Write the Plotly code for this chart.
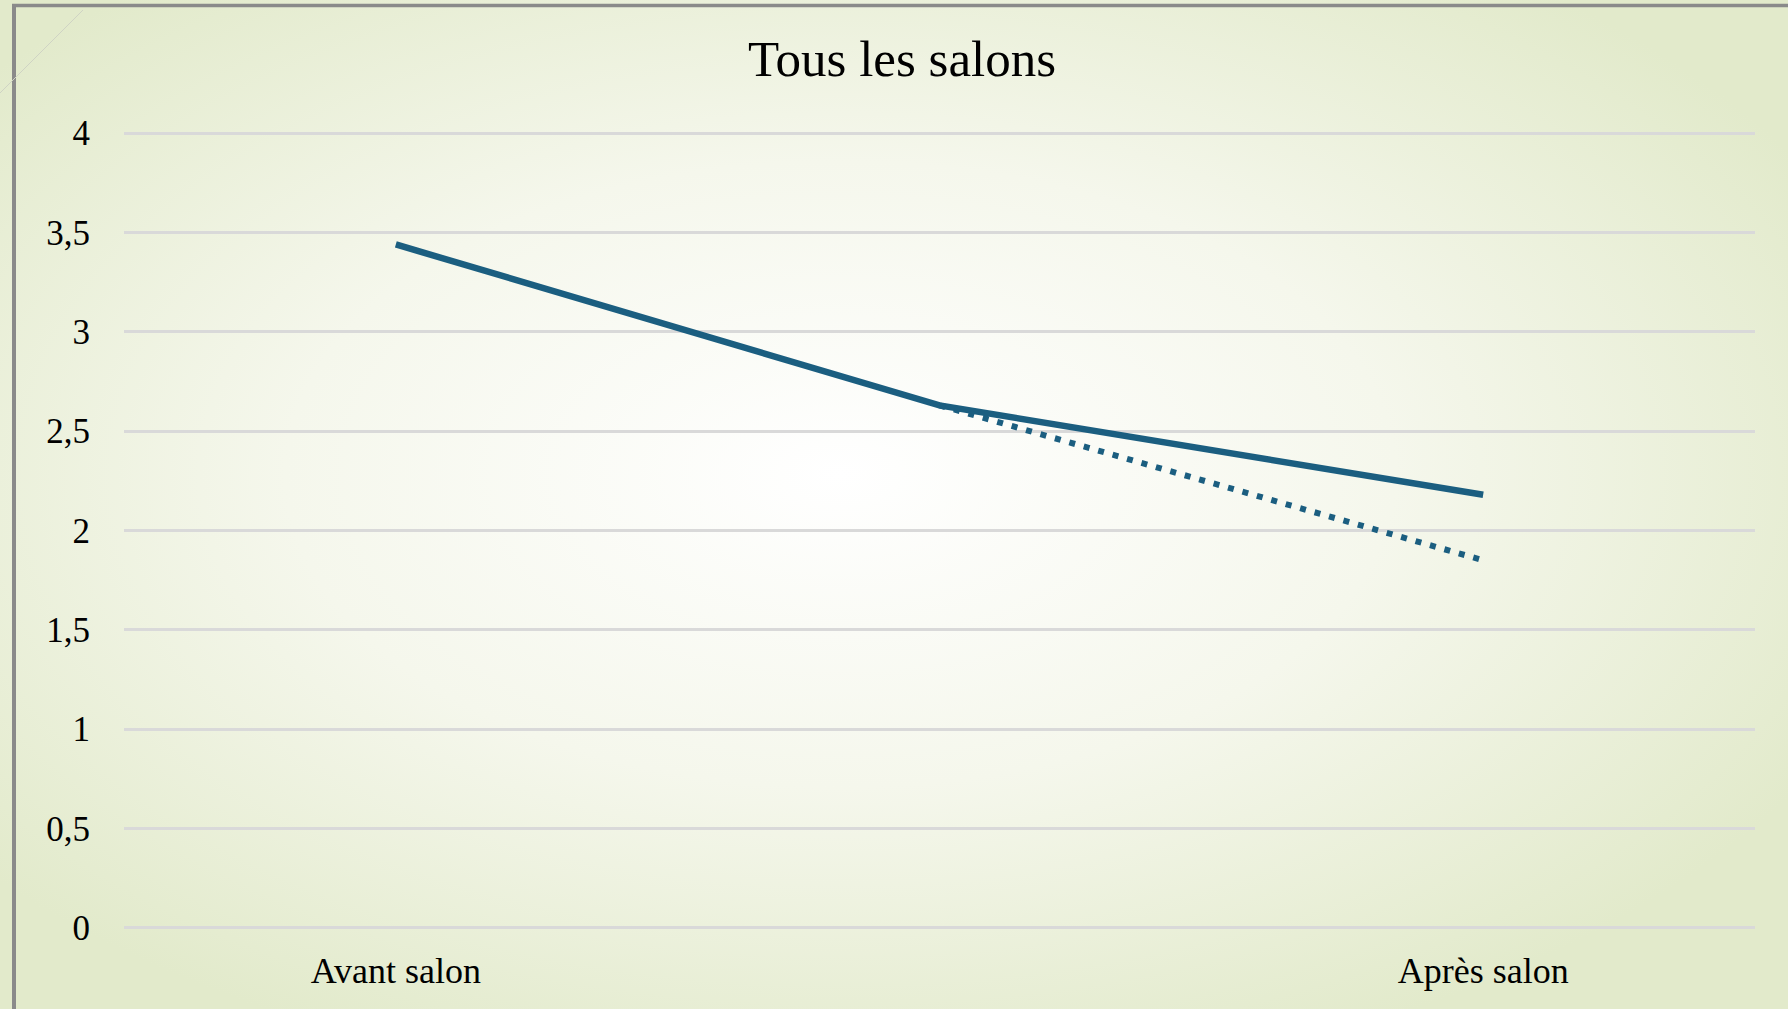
import plotly.graph_objects as go
import urllib.parse

# ---- data ----
categories = ["Avant salon", " ", "Après salon"]
solid_values = [3.44, 2.63, 2.18]
dotted_values = [None, 2.63, 1.85]
y_ticks = [0, 0.5, 1, 1.5, 2, 2.5, 3, 3.5, 4]
title_text = "Tous les salons"

# ---- layout geometry ----
W, H = 1788, 1009
L, R, T, B = 124, 33, 132, 80
PW, PH = W - L - R, H - T - B

line_color = "#1b5e80"
font_family = "Liberation Serif, Times New Roman, serif"

svg = (
    '<svg xmlns="http://www.w3.org/2000/svg" width="1788" height="1009" viewBox="0 0 1788 1009" preserveAspectRatio="none">'
    '<defs><radialGradient id="g" cx="0.47" cy="0.47" r="0.62" fx="0.47" fy="0.47">'
    '<stop offset="0" stop-color="#ffffff"/>'
    '<stop offset="0.5" stop-color="#f5f7ec"/>'
    '<stop offset="1" stop-color="#e2eacb"/>'
    '</radialGradient></defs>'
    '<rect x="0" y="0" width="1788" height="1009" fill="url(#g)"/></svg>'
)
svg_uri = "data:image/svg+xml;charset=utf-8," + urllib.parse.quote(svg)

fig = go.Figure()
fig.add_trace(go.Scatter(
    x=categories, y=solid_values, mode="lines",
    line=dict(color=line_color, width=6.5), hoverinfo="skip", showlegend=False,
))
fig.add_trace(go.Scatter(
    x=categories, y=dotted_values, mode="lines",
    line=dict(color=line_color, width=6, dash="6px,9px"), hoverinfo="skip", showlegend=False,
))

def px_x(p):
    return (p - L) / PW

def px_y(p):
    return (H - B - p) / PH

fig.update_layout(
    width=W, height=H,
    margin=dict(l=L, r=R, t=T, b=B, pad=0),
    paper_bgcolor="#eef2e0",
    plot_bgcolor="rgba(0,0,0,0)",
    separators=", ",
    font=dict(family=font_family, color="#000000", size=34),
    title=dict(text=title_text, x=902 / W, xanchor="center",
               y=1 - 58 / H, yanchor="middle",
               font=dict(family=font_family, size=51, color="#000000")),
    xaxis=dict(range=[-0.5, 2.5], showgrid=False, zeroline=False, showline=False, ticks="",
               tickfont=dict(size=36), ticklabelstandoff=17, fixedrange=True),
    yaxis=dict(range=[-0.006, 4.006], tickvals=y_ticks, showgrid=True, gridcolor="#d9d9d9",
               gridwidth=2.5, zeroline=False, showline=False, ticks="",
               tickfont=dict(size=35), ticklabelstandoff=33, fixedrange=True),
    images=[dict(source=svg_uri, xref="paper", yref="paper",
                 x=px_x(0), y=px_y(0), sizex=W / PW, sizey=H / PH,
                 xanchor="left", yanchor="top", sizing="stretch", layer="below")],
    shapes=[
        dict(type="line", xref="paper", yref="paper", x0=px_x(14), x1=px_x(14),
             y0=px_y(4), y1=px_y(H + 5), line=dict(color="#8a8a8a", width=4)),
        dict(type="line", xref="paper", yref="paper", x0=px_x(12), x1=px_x(W + 5),
             y0=px_y(5.5), y1=px_y(5.5), line=dict(color="#8a8a8a", width=3.5)),
        dict(type="line", xref="paper", yref="paper", x0=px_x(0), x1=px_x(83),
             y0=px_y(93), y1=px_y(10), line=dict(color="#cfd3c4", width=1)),
    ],
)

fig.write_html("out.html", config={"displayModeBar": False},
               post_script="document.body.style.margin='0';document.body.style.overflow='hidden';")
